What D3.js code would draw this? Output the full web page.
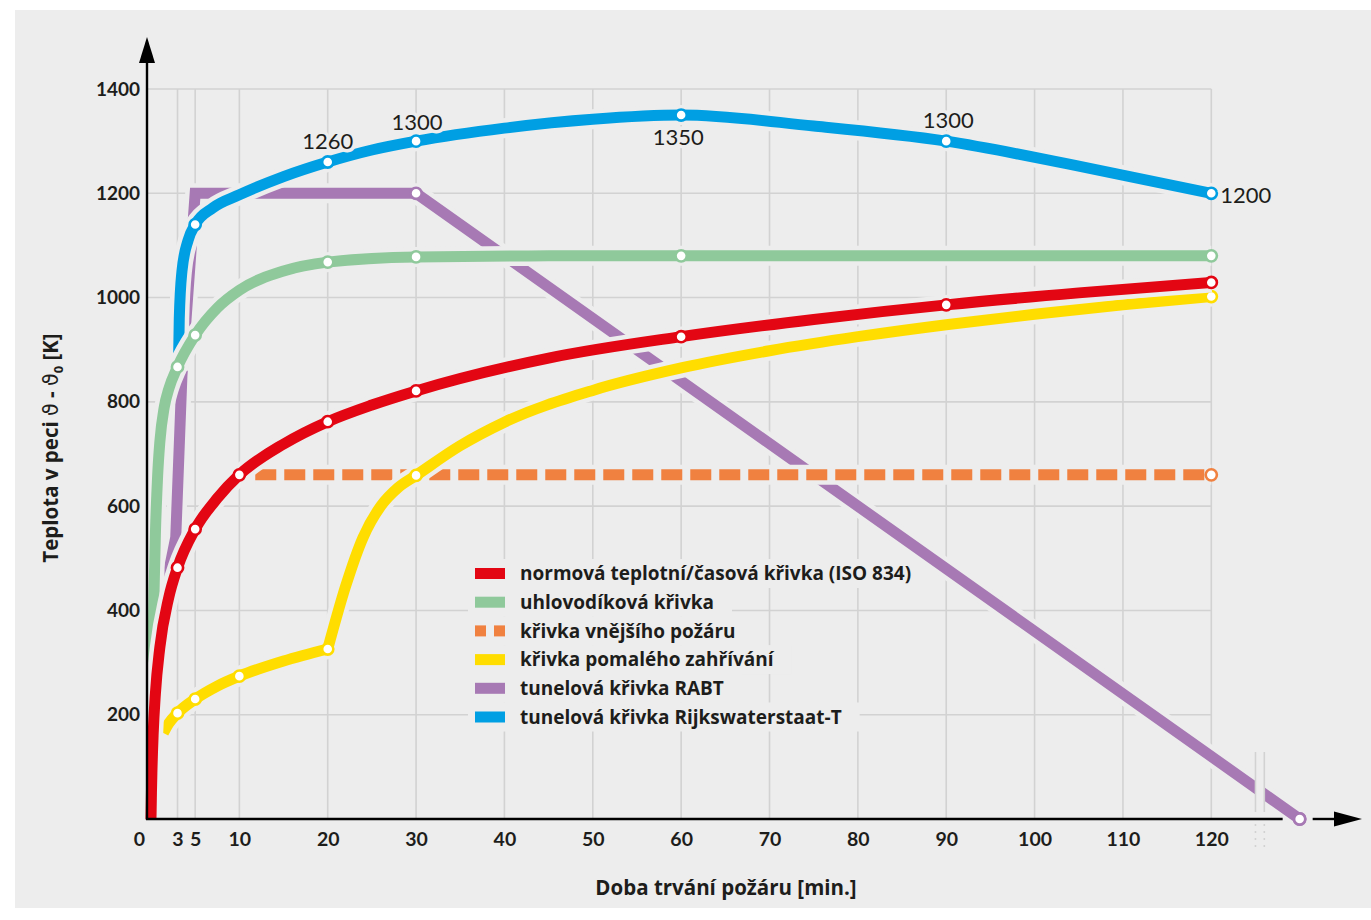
<!DOCTYPE html>
<html><head><meta charset="utf-8">
<script src="https://cdn.jsdelivr.net/npm/d3@7"></script>
<style>
body{margin:0;background:#fff}
svg{display:block}
</style>
</head><body>
<svg id="c" width="1371" height="920"></svg>
<script>
// ---------- data (minutes, temperature rise K) ----------
const xTicks = [0,3,5,10,20,30,40,50,60,70,80,90,100,110,120];
const yTicks = [200,400,600,800,1000,1200,1400];

const iso834 = [[0,0],[0.05,50],[0.1,88],[0.25,165],[0.5,241],[1,329],[2,424],[3,482],[5,556],[7.5,615],[10,660],[15,719],[20,762],[25,794],[30,821],[45,884],[60,925],[75,958],[90,986],[105,1009],[120,1029]];
const isoMarks = [3,5,10,20,30,60,90,120];

const hydrocarbon = [[0.2,300],[0.35,440],[0.5,548],[0.75,658],[1,723],[1.5,790],[2,824],[3,867],[5,928],[7.5,980],[10,1014],[15,1051],[20,1068],[30,1078],[45,1080],[60,1080],[90,1080],[120,1080]];
const hcMarks = [3,5,20,30,60,120];

const externalFire = [[11.8,660],[120,660]];
const extMarks = [120];

// slow heating: phase 1 (to 20 min) and phase 2 (after 20 min)
const slowHeating1 = [[1.4,165],[2,183],[3,203],[5,230],[7.5,255],[10,274],[15,303],[20,326]];
const slowHeating2 = [[20,326],[22,445],[24,540],[26,600],[28,636],[30,659],[35,716],[40,761],[50,822],[60,865],[70,898],[80,925],[90,948],[100,968],[110,986],[120,1002]];
const slowMarks = [3,5,10,20,30,120];

const rabt = [[1.6,440],[2.8,540],[3.5,850],[5,1200],[30,1200],[130,0]];
const rabtMarks = [30,130];

const rws = [[3.1,860],[3.2,960],[3.5,1050],[4.2,1110],[5,1140],[7,1172],[10,1197],[15,1232],[20,1260],[25,1283],[30,1300],[40,1325],[50,1342],[60,1350],[75,1329],[90,1300],[105,1252],[120,1200]];
const rwsMarks = [5,20,30,60,90,120];
const rwsLabels = [20,30,60,90,120];

const legendLabels = [
  "normová teplotní/časová křivka (ISO 834)",
  "uhlovodíková křivka",
  "křivka vnějšího požáru",
  "křivka pomalého zahřívání",
  "tunelová křivka RABT",
  "tunelová křivka Rijkswaterstaat-T"
];

// ---------- setup ----------
const BG = "#ededed", GRID = "#d2d2d2", INK = "#1d1d1b";
const C = {red:"#e30613", green:"#8fc99b", orange:"#f08140", yellow:"#ffdd00", purple:"#a779b4", blue:"#009fe3"};
const TF = "'Open Sans', Lato, sans-serif";
const NF = "Lato, 'Open Sans', sans-serif";
const svg = d3.select("#c");
svg.append("rect").attr("x",15).attr("y",10).attr("width",1356).attr("height",898).attr("fill",BG);

const x = d3.scaleLinear().domain([0,120]).range([151,1211.3]);
const y = d3.scaleLinear().domain([0,1400]).range([819,89]);
const axX = x(0)-4, axY = y(0);

// grid
const g = svg.append("g");
g.selectAll("line.h").data(yTicks).join("line")
  .attr("x1",axX).attr("x2",x(120)).attr("y1",d=>y(d)).attr("y2",d=>y(d))
  .attr("stroke",GRID).attr("stroke-width",1.6);
g.selectAll("line.v").data(xTicks.filter(d=>d>0)).join("line")
  .attr("x1",d=>x(d)).attr("x2",d=>x(d)).attr("y1",y(0)).attr("y2",y(1400))
  .attr("stroke",GRID).attr("stroke-width",1.6);
const legendBg = svg.append("g");

// lines
const LW = 11;
function series(parts, color, marks, curve, dash){
  const line = d3.line().x(d=>x(d[0])).y(d=>y(d[1])).curve(curve);
  const dstr = parts.map(p=>line(p)).join("");
  const all = parts.flat();
  const grp = svg.append("g");
  grp.append("path").attr("d",dstr).attr("fill","none").attr("stroke",BG).attr("stroke-width",LW+9);
  grp.append("path").attr("d",dstr).attr("fill","none").attr("stroke",color).attr("stroke-width",LW)
    .attr("stroke-dasharray",dash||null);
  const pts = marks.map(t=>all.find(d=>d[0]===t));
  grp.selectAll("circle").data(pts).join("circle")
    .attr("cx",d=>x(d[0])).attr("cy",d=>y(d[1])).attr("r",5.6)
    .attr("fill","#fff").attr("stroke",color).attr("stroke-width",2.6);
  return grp;
}
series([rabt], C.purple, rabtMarks, d3.curveLinear);
series([rws], C.blue, rwsMarks, d3.curveMonotoneX);
series([hydrocarbon], C.green, hcMarks, d3.curveMonotoneX);
series([externalFire], C.orange, extMarks, d3.curveLinear, "21 8");
series([slowHeating1, slowHeating2], C.yellow, slowMarks, d3.curveMonotoneX);
series([iso834], C.red, isoMarks, d3.curveMonotoneX);

// legend (text + swatches; background rows placed under the lines)
const lg = svg.append("g");
const rowY = i => 573.5 + i*28.7;
const legendText = lg.selectAll("text").data(legendLabels).join("text")
  .attr("x",520).attr("y",(d,i)=>rowY(i)+6.8)
  .style("font-family",TF).style("font-size","19px").style("font-weight",700).attr("fill",INK).text(d=>d);
const lens = [];
legendText.each(function(){ lens.push(this.getComputedTextLength()); });
legendBg.selectAll("rect").data(legendLabels).join("rect")
  .attr("x",468).attr("y",(d,i)=>rowY(i)-14.5).attr("width",(d,i)=>520+lens[i]+18-468).attr("height",29)
  .attr("fill",BG);
const swC = [C.red,C.green,C.orange,C.yellow,C.purple,C.blue];
swC.forEach((c,i)=>{
  if(i===2){
    lg.append("rect").attr("x",475).attr("y",rowY(i)-5.5).attr("width",11).attr("height",11).attr("fill",c);
    lg.append("rect").attr("x",494).attr("y",rowY(i)-5.5).attr("width",11).attr("height",11).attr("fill",c);
  } else {
    lg.append("rect").attr("x",475).attr("y",rowY(i)-5.5).attr("width",30).attr("height",11).attr("fill",c);
  }
});

// axis break
const b1 = x(125), b2 = x(126);
svg.append("rect").attr("x",b1).attr("y",752).attr("width",b2-b1).attr("height",100).attr("fill",BG);
const endP = rabt[rabt.length-1];

// axes lines
svg.append("line").attr("x1",axX).attr("x2",axX).attr("y1",axY+1).attr("y2",55).attr("stroke","#000").attr("stroke-width",2.4);
svg.append("path").attr("d",`M${axX},37 L${axX-8},63 L${axX+8},63 Z`).attr("fill","#000");
svg.append("line").attr("x1",axX-1).attr("x2",x(endP[0])-17).attr("y1",axY).attr("y2",axY).attr("stroke","#000").attr("stroke-width",2.4);
svg.append("line").attr("x1",x(endP[0])+13).attr("x2",1340).attr("y1",axY).attr("y2",axY).attr("stroke","#000").attr("stroke-width",2.4);
svg.append("path").attr("d",`M1362,${axY} L1334,${axY-7.5} L1334,${axY+7.5} Z`).attr("fill","#000");
[b1,b2].forEach(bx=>{
  svg.append("line").attr("x1",bx).attr("x2",bx).attr("y1",752).attr("y2",812).attr("stroke",GRID).attr("stroke-width",1.6);
  svg.append("line").attr("x1",bx).attr("x2",bx).attr("y1",824).attr("y2",850).attr("stroke",GRID).attr("stroke-width",1.6).attr("stroke-dasharray","2 5");
});
svg.append("circle").attr("cx",x(endP[0])).attr("cy",y(endP[1])).attr("r",5.6)
  .attr("fill","#fff").attr("stroke",C.purple).attr("stroke-width",2.6);

// tick labels via d3 axes
const xa = svg.append("g").attr("transform",`translate(0,${axY})`)
  .call(d3.axisBottom(x).tickValues(xTicks).tickSize(0).tickPadding(13).tickFormat(d3.format("d")));
xa.select(".domain").remove();
xa.selectAll("text").attr("fill",INK)
  .style("font-family",NF).style("font-size","19.5px").style("font-weight",700)
  .attr("dx",d=>d===0?-12:0);
const ya = svg.append("g").attr("transform",`translate(${axX},0)`)
  .call(d3.axisLeft(y).tickValues(yTicks).tickSize(0).tickPadding(7).tickFormat(d3.format("d")));
ya.select(".domain").remove();
ya.selectAll("text").attr("fill",INK)
  .style("font-family",NF).style("font-size","19px").style("font-weight",700);

// RWS value labels
const labOff = {20:[0,-13,"middle"],30:[1,-11,"middle"],60:[-3,30,"middle"],90:[2,-13,"middle"],120:[9,10,"start"]};
svg.append("g").selectAll("text").data(rwsLabels.map(t=>rws.find(d=>d[0]===t))).join("text")
  .attr("x",d=>x(d[0])+labOff[d[0]][0]).attr("y",d=>y(d[1])+labOff[d[0]][1])
  .attr("text-anchor",d=>labOff[d[0]][2])
  .style("font-family",NF).style("font-size","22px").attr("fill",INK)
  .attr("stroke",BG).attr("stroke-width",7).attr("paint-order","stroke")
  .text(d=>d3.format("d")(d[1]));

// axis titles
svg.append("text").attr("x",726).attr("y",895).attr("text-anchor","middle")
  .style("font-family",TF).style("font-size","20.5px").style("font-weight",700).attr("fill",INK).text("Doba trvání požáru [min.]");
const yt = svg.append("text").attr("transform","translate(58,448) rotate(-90)").attr("text-anchor","middle")
  .style("font-family",TF).style("font-size","20.5px").style("font-weight",700).attr("fill",INK);
yt.append("tspan").text("Teplota v peci ");
yt.append("tspan").style("font-family","'DejaVu Sans'").style("font-weight",400).text("ϑ");
yt.append("tspan").text(" - ");
yt.append("tspan").style("font-family","'DejaVu Sans'").style("font-weight",400).text("ϑ");
yt.append("tspan").style("font-size","13px").attr("dy",5).text("0");
yt.append("tspan").attr("dy",-5).text(" [K]");
</script>
</body></html>
